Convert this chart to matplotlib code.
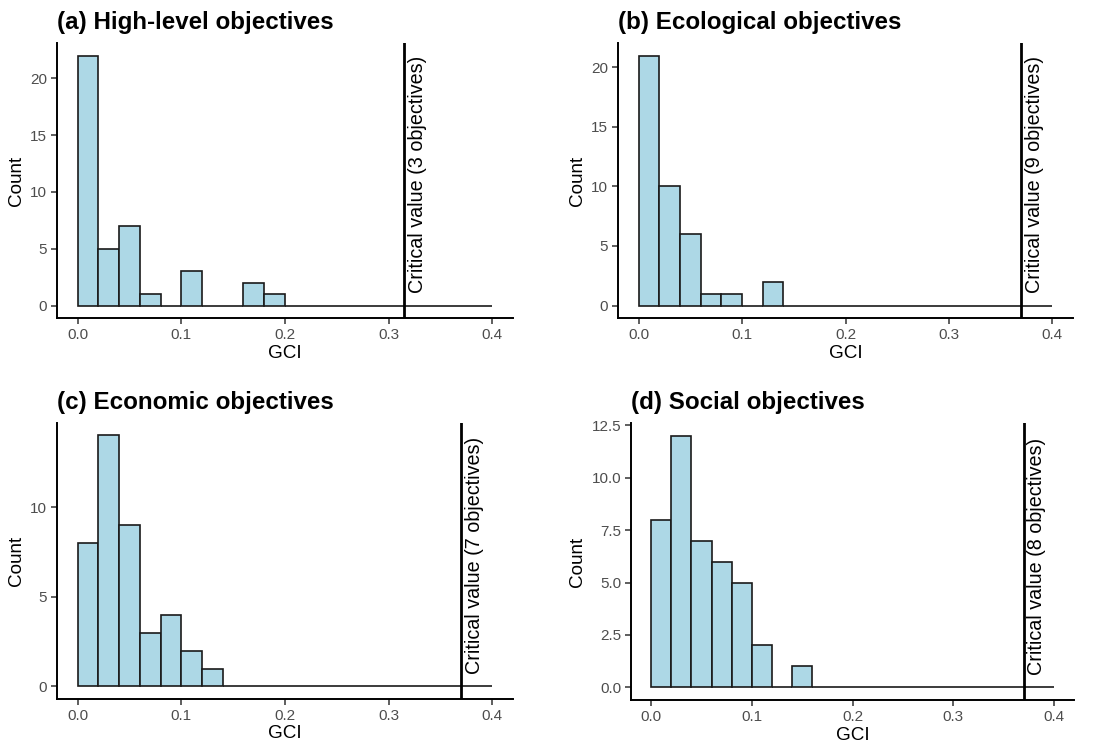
import numpy as np
import matplotlib
matplotlib.use("Agg")
import matplotlib.pyplot as plt
import matplotlib.transforms as mtransforms

plt.rcParams['font.family'] = ['Liberation Sans', 'DejaVu Sans']

# histogram counts per 0.02-wide GCI bin (0 .. 0.4)
bin_width = 0.02
counts_high = [22, 5, 7, 1, 0, 3, 0, 0, 2, 1, 0, 0, 0, 0, 0, 0, 0, 0, 0, 0]
counts_eco = [21, 10, 6, 1, 1, 0, 2, 0, 0, 0, 0, 0, 0, 0, 0, 0, 0, 0, 0, 0]
counts_econ = [8, 14, 9, 3, 4, 2, 1, 0, 0, 0, 0, 0, 0, 0, 0, 0, 0, 0, 0, 0]
counts_soc = [8, 12, 7, 6, 5, 2, 0, 1, 0, 0, 0, 0, 0, 0, 0, 0, 0, 0, 0, 0]

titles = ["(a) High-level objectives", "(b) Ecological objectives",
          "(c) Economic objectives", "(d) Social objectives"]
crit_values = [0.315, 0.37, 0.37, 0.37]
crit_n = [3, 9, 7, 8]
yticks = [[0, 5, 10, 15, 20], [0, 5, 10, 15, 20], [0, 5, 10],
          [0, 2.5, 5, 7.5, 10, 12.5]]
ytick_labels = [["0", "5", "10", "15", "20"], ["0", "5", "10", "15", "20"],
                ["0", "5", "10"], ["0.0", "2.5", "5.0", "7.5", "10.0", "12.5"]]
xticks = [0.0, 0.1, 0.2, 0.3, 0.4]

# axes boxes in figure fractions [left, bottom, width, height]
boxes = [[0.0509, 0.5788, 0.4075, 0.3642],
         [0.5523, 0.5788, 0.4066, 0.3642],
         [0.0509, 0.0742, 0.4075, 0.3656],
         [0.5639, 0.0728, 0.3959, 0.3669]]

fig = plt.figure(figsize=(11.19, 7.55), dpi=100)
all_counts = [counts_high, counts_eco, counts_econ, counts_soc]

for i in range(4):
    ax = fig.add_axes(boxes[i])
    counts = np.array(all_counts[i])
    edges = np.arange(len(counts)) * bin_width
    ax.bar(edges, counts, width=bin_width, align='edge', color='#ADD8E6',
           edgecolor='#1a1a1a', linewidth=1.2, zorder=2)
    ax.axvline(crit_values[i], color='black', linewidth=2.0, zorder=3)
    trans = mtransforms.blended_transform_factory(ax.transData, ax.transAxes)
    ax.text(crit_values[i] + 0.0125, 0.09, "Critical value (%d objectives)" % crit_n[i],
            rotation=90, ha='center', va='bottom', fontsize=14.2, transform=trans)

    ymax = counts.max()
    ax.set_ylim(-0.05 * ymax, 1.05 * ymax)
    ax.set_xlim(-0.02, 0.42)
    ax.set_xticks(xticks)
    ax.set_xticklabels(["0.0", "0.1", "0.2", "0.3", "0.4"])
    ax.set_yticks(yticks[i])
    ax.set_yticklabels(ytick_labels[i])
    for s in ['top', 'right']:
        ax.spines[s].set_visible(False)
    for s in ['left', 'bottom']:
        ax.spines[s].set_linewidth(1.4)
        ax.spines[s].set_color('black')
    ax.tick_params(length=4, width=1.1, color='#333333', labelsize=11,
                   labelcolor='#4D4D4D', pad=3)
    ax.set_xlabel("GCI", fontsize=13.6, labelpad=2)
    ax.set_ylabel("Count", fontsize=13.6, labelpad=4)
    ax.annotate(titles[i], xy=(0, 1), xycoords='axes fraction', xytext=(0, 10),
                textcoords='offset points', ha='left', va='baseline',
                fontsize=17.4, fontweight='bold')

fig.savefig("out.png", dpi=100)
